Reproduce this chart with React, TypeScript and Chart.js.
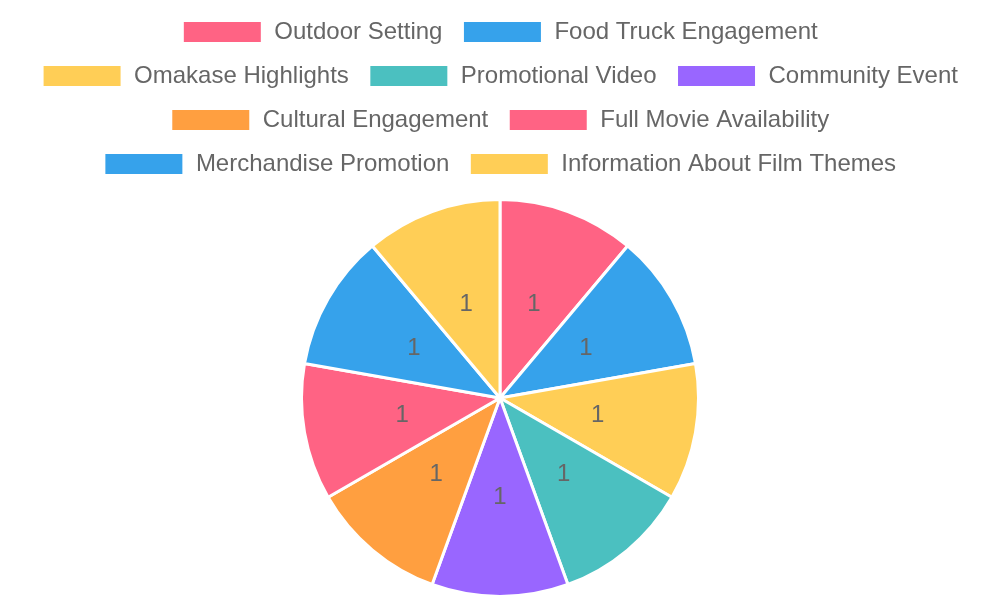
import React, { useEffect, useRef } from "react";
import { Chart, registerables } from "chart.js";

Chart.register(...registerables);

const categories = [
  "Outdoor Setting",
  "Food Truck Engagement",
  "Omakase Highlights",
  "Promotional Video",
  "Community Event",
  "Cultural Engagement",
  "Full Movie Availability",
  "Merchandise Promotion",
  "Information About Film Themes",
];
const values = [1, 1, 1, 1, 1, 1, 1, 1, 1];
const colors = [
  "#FF6384",
  "#36A2EB",
  "#FFCE56",
  "#4BC0C0",
  "#9966FF",
  "#FF9F40",
  "#FF6384",
  "#36A2EB",
  "#FFCE56",
];

const FONT = "'Liberation Sans', Arial, sans-serif";

const valueLabels = {
  id: "valueLabels",
  afterDatasetsDraw(chart: any) {
    const ctx = chart.ctx;
    const meta = chart.getDatasetMeta(0);
    ctx.save();
    ctx.font = `24px ${FONT}`;
    ctx.fillStyle = "#666";
    ctx.textAlign = "center";
    ctx.textBaseline = "middle";
    meta.data.forEach((arc: any, i: number) => {
      const p = arc.tooltipPosition();
      ctx.fillText(String(chart.data.datasets[0].data[i]), p.x, p.y);
    });
    ctx.restore();
  },
};

const legendGap = {
  id: "legendGap",
  beforeInit(chart: any) {
    const legend = chart.legend;
    if (!legend) return;
    const orig = legend.fit;
    legend.fit = function () {
      orig.call(this);
      this.height += 12;
    };
  },
};

export default function App() {
  const ref = useRef<HTMLCanvasElement>(null);
  useEffect(() => {
    const chart = new Chart(ref.current!, {
      type: "pie",
      data: {
        labels: categories,
        datasets: [
          {
            data: values,
            backgroundColor: colors,
            borderColor: "#fff",
            borderWidth: 3,
          },
        ],
      },
      options: {
        responsive: false,
        animation: false,
        layout: { padding: { left: 8, right: 8, top: 0, bottom: 2 } },
        plugins: {
          legend: {
            position: "top",
            labels: {
              boxWidth: 80,
              boxHeight: 23,
              padding: 20,
              color: "#666",
              font: { size: 24, family: FONT },
            },
          },
          tooltip: { enabled: false },
        },
      },
      plugins: [legendGap, valueLabels],
    });
    return () => chart.destroy();
  }, []);
  return (
    <canvas
      ref={ref}
      width={1000}
      height={600}
      style={{ display: "block", position: "absolute", left: 0, top: 0 }}
    />
  );
}
